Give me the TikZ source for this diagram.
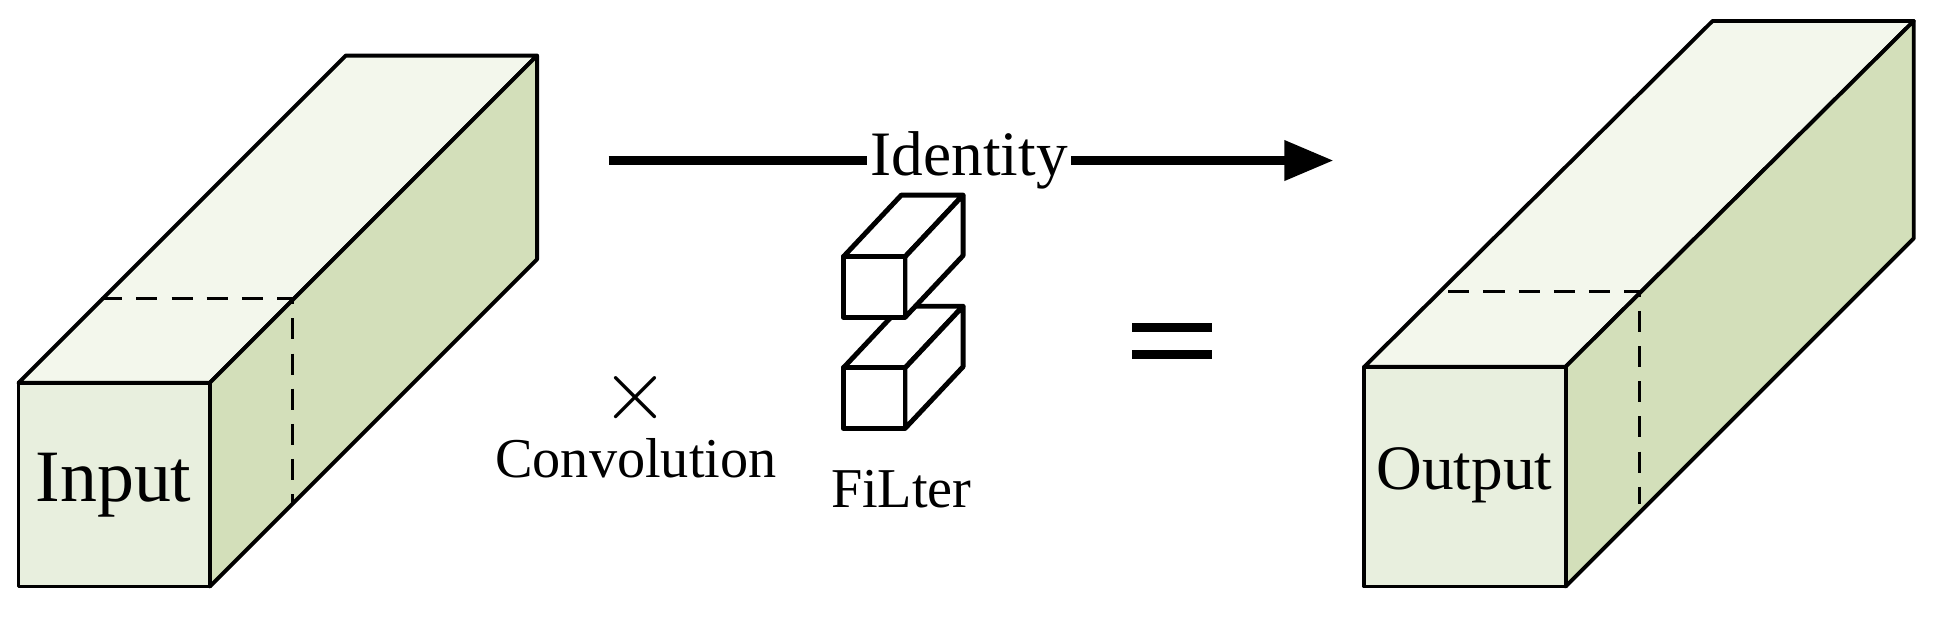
\documentclass[tikz,border=0pt]{standalone}
\usepackage{fontspec}
\setmainfont{Liberation Serif}
\usetikzlibrary{arrows.meta}
\definecolor{frontc}{HTML}{E8EFDE}
\definecolor{topc}{HTML}{F3F7EC}
\definecolor{sidec}{HTML}{D3DFBA}
\tikzset{
  face/.style={draw=black, line width=1.1pt, line join=round},
  cut/.style={dashed, line width=0.9pt, dash pattern=on 6pt off 4pt},
  blk/.style={draw=black, fill=white, line width=1.4pt, line join=round},
  lbl/.style={inner sep=1pt, font=\fontsize{#1}{#1}\selectfont}
}
% cuboid: front lower-left, front upper-right, back offset, fills
\newcommand{\cuboid}[5]{%
  \fill[#5] (#1) -- ++(#3) -- ($(#2)+(#3)$) -- (#2) -- cycle;
}
\begin{document}
\begin{tikzpicture}[x=0.01235cm,y=-0.01235cm]
  \useasboundingbox (0,0) rectangle (1568,500);
  %Input
  \filldraw[face, fill=topc] (15,310) -- (280,45) -- (435,45) -- (170,310) -- cycle;
  \filldraw[face, fill=sidec] (170,310) -- (435,45) -- (435,210) -- (170,475) -- cycle;
  \filldraw[face, fill=frontc] (15,310) rectangle (170,475);
  \draw[cut] (82,242) -- (237,242) -- (237,407);
  \node[lbl=21pt] (input) at (92,393) {Input};
  %Identity
  \coordinate (idA) at (493,130);
  \coordinate (idB) at (1080,130);
  \draw[line width=2.4pt, -{Triangle[length=14pt,width=11pt]}] (idA) -- (idB);
  \node[lbl=18pt, fill=white, inner sep=1pt] (ident) at (785,130) {Identity};
  %Convolution
  \node[lbl=26pt] (times) at (515,322) {$\times$};
  \node[lbl=16pt] (conv) at (515,371) {Convolution};
  %Filter
  \filldraw[blk] (683,298) -- (730,248) -- (780,248) -- (733,298) -- cycle;
  \filldraw[blk] (733,298) -- (780,248) -- (780,297) -- (733,347) -- cycle;
  \filldraw[blk] (683,298) rectangle (733,347);
  \filldraw[blk] (683,208) -- (730,158) -- (780,158) -- (733,208) -- cycle;
  \filldraw[blk] (733,208) -- (780,158) -- (780,207) -- (733,257) -- cycle;
  \filldraw[blk] (683,208) rectangle (733,257);
  \node[lbl=16pt] (filt) at (730,396) {FiLter};
  %Equal
  \draw[line width=2.6pt] (917,265) -- (982,265);
  \draw[line width=2.6pt] (917,287) -- (982,287);
  %Output
  \filldraw[face, fill=topc] (1105,297) -- (1387,17) -- (1550,17) -- (1268,297) -- cycle;
  \filldraw[face, fill=sidec] (1268,297) -- (1550,17) -- (1550,193) -- (1268,475) -- cycle;
  \filldraw[face, fill=frontc] (1105,297) rectangle (1268,475);
  \draw[cut] (1173,236) -- (1328,236) -- (1328,408);
  \node[lbl=18pt] (output) at (1186,385) {Output};
\end{tikzpicture}
\end{document}
